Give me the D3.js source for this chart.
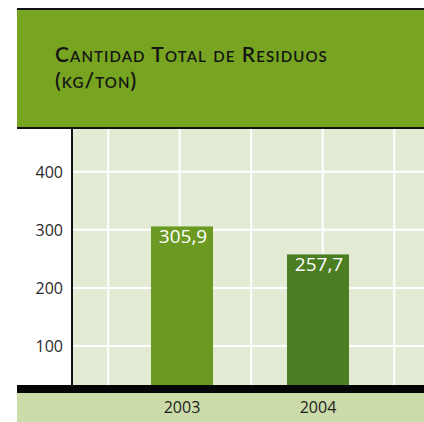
<!DOCTYPE html>
<html>
<head>
<meta charset="utf-8">
<script src="https://cdn.jsdelivr.net/npm/d3@7"></script>
<style>
  html, body { margin: 0; padding: 0; background: #fff; }
  #chart { width: 424px; height: 422px; }
</style>
</head>
<body>
<div id="chart"></div>
<script>
// data
const years = ["2003", "2004"];
const residuos = [305.9, 257.7];
const valueLabels = ["305,9", "257,7"];
const yTicks = [100, 200, 300, 400];
const gridCols = [1, 2, 3, 4, 5];
const titleLines = ["Cantidad Total de Residuos", "(kg/ton)"];

(function() {
  const W = 424, H = 422;
  const svg = d3.select("#chart").append("svg").attr("width", W).attr("height", H);

  const left = 17, axisX = 72, plotTop = 129, baseTop = 385, baseBot = 393;
  const barColors = ["#6b9a23", "#4b7d23"];
  const font = "'Open Sans', 'Noto Sans', sans-serif";

  // header block
  svg.append("rect").attr("x", left).attr("y", 8).attr("width", W - left).attr("height", 120).attr("fill", "#77a521");
  svg.append("rect").attr("x", left).attr("y", 8).attr("width", W - left).attr("height", 2).attr("fill", "#111");
  svg.append("rect").attr("x", left).attr("y", 127).attr("width", W - left).attr("height", 2).attr("fill", "#111");

  // title, two lines
  svg.append("g").selectAll("text").data(titleLines).join("text")
    .attr("x", 55).attr("y", (d, i) => 62 + i * 26)
    .attr("font-family", "Lato, sans-serif").attr("font-size", 21).attr("font-weight", 600)
    .attr("letter-spacing", 1.1)
    .style("font-variant", "small-caps").attr("fill", "#141414")
    .text(d => d);

  // plot background
  svg.append("rect").attr("x", axisX).attr("y", plotTop).attr("width", W - axisX).attr("height", baseTop - plotTop).attr("fill", "#e3ebd5");

  const y = d3.scaleLinear().domain([0, 400]).range([404, 171.8]);
  const gx = d3.scaleLinear().domain([0, 5]).range([36.7, 394.2]);
  const x = d3.scaleBand().domain(years).range([114, 386]).paddingInner(0.544).paddingOuter(0.272);

  const grid = svg.append("g").attr("stroke", "#fff").attr("stroke-width", 2);
  grid.selectAll("line.h").data(yTicks).join("line").attr("class", "h")
    .attr("x1", axisX).attr("x2", W).attr("y1", d => y(d)).attr("y2", d => y(d));
  grid.selectAll("line.v").data(gridCols).join("line").attr("class", "v")
    .attr("x1", d => gx(d)).attr("x2", d => gx(d)).attr("y1", plotTop).attr("y2", baseTop);

  // bars
  svg.append("g").selectAll("rect").data(residuos).join("rect")
    .attr("x", (d, i) => x(years[i])).attr("width", x.bandwidth())
    .attr("y", d => y(d)).attr("height", d => baseTop - y(d))
    .attr("fill", (d, i) => barColors[i]);

  svg.append("g").selectAll("text").data(residuos).join("text")
    .attr("x", (d, i) => x(years[i]) + x.bandwidth() / 2 + 1)
    .attr("y", d => y(d) + 17)
    .attr("text-anchor", "middle").attr("fill", "#fff")
    .attr("font-family", font).attr("font-size", 19)
    .text((d, i) => valueLabels[i]);

  // y axis
  svg.append("rect").attr("x", axisX - 1).attr("y", plotTop).attr("width", 2).attr("height", baseTop - plotTop).attr("fill", "#111");
  svg.append("g").selectAll("text").data(yTicks).join("text")
    .attr("x", 63).attr("y", d => y(d) + 6).attr("text-anchor", "end")
    .attr("font-family", font).attr("font-size", 16).attr("fill", "#2a2a2a")
    .text(d => d);

  // baseline and category band
  svg.append("rect").attr("x", left).attr("y", baseBot).attr("width", W - left).attr("height", H - baseBot).attr("fill", "#cbdba9");
  svg.append("rect").attr("x", left).attr("y", baseTop).attr("width", W - left).attr("height", baseBot - baseTop).attr("fill", "#050505");

  svg.append("g").selectAll("text").data(years).join("text")
    .attr("x", d => x(d) + x.bandwidth() / 2).attr("y", 413)
    .attr("text-anchor", "middle")
    .attr("font-family", font).attr("font-size", 16).attr("fill", "#1e1e1e")
    .text(d => d);
})();
</script>
</body>
</html>
